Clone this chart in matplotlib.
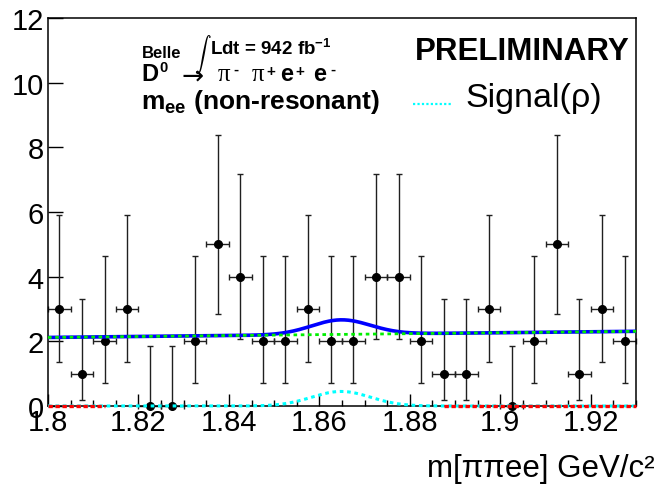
import numpy as np
import matplotlib
matplotlib.use("Agg")
import matplotlib.pyplot as plt
from matplotlib.lines import Line2D

# --- data ------------------------------------------------------------------
mass_lo, mass_hi = 1.80, 1.93          # GeV/c^2
bin_width = 0.005
counts = [3, 1, 2, 3, 0, 0, 2, 5, 4, 2, 2, 3, 2,
          2, 4, 4, 2, 1, 1, 3, 0, 2, 5, 1, 3, 2]

# Poisson (Garwood 68%) error bar edges for a given count
poisson_lo = {0: 0.0, 1: 0.173, 2: 0.708, 3: 1.367, 4: 2.086, 5: 2.840}
poisson_hi = {0: 1.841, 1: 3.300, 2: 4.638, 3: 5.918, 4: 7.163, 5: 8.382}

# fit components
bkg_at_lo, bkg_at_hi = 2.12, 2.31       # linear background at the range ends
sig_mean, sig_sigma, sig_peak = 1.8648, 0.0065, 0.45
sideband_ranges = [(1.800, 1.8125), (1.8875, 1.930)]

# ---------------------------------------------------------------------------
W, H = 658, 485
SANS = ["Liberation Sans", "DejaVu Sans"]
plt.rcParams["font.family"] = SANS
plt.rcParams["mathtext.fontset"] = "custom"
plt.rcParams["mathtext.rm"] = "Liberation Sans"
plt.rcParams["mathtext.it"] = "Liberation Sans:italic"
plt.rcParams["mathtext.bf"] = "Liberation Sans:bold"


def fx(x):
    return x / W


def fy(y):
    return 1 - y / H


fig = plt.figure(figsize=(W / 100, H / 100), dpi=100)
ax = fig.add_axes([fx(48), fy(407), (636 - 48) / W, (407 - 19) / H])

centres = mass_lo + bin_width * (np.arange(len(counts)) + 0.5)
n = np.array(counts)
err_lo = n - np.array([poisson_lo[c] for c in counts])
err_hi = np.array([poisson_hi[c] for c in counts]) - n

eb = ax.errorbar(centres, n, yerr=[err_lo, err_hi], xerr=bin_width / 2,
                 fmt="o", color="black", ecolor="#202020", ms=5.5,
                 elinewidth=1.0, capsize=2.3, capthick=1.0, zorder=2)
for art in eb.lines[0:1] + tuple(eb.lines[1]) + tuple(eb.lines[2]):
    art.set_clip_on(False)

xs = np.linspace(mass_lo, mass_hi, 600)
bkg = bkg_at_lo + (bkg_at_hi - bkg_at_lo) * (xs - mass_lo) / (mass_hi - mass_lo)
sig = sig_peak * np.exp(-0.5 * ((xs - sig_mean) / sig_sigma) ** 2)

ax.plot(xs, bkg + sig, color="#0000ff", lw=2.6, zorder=3, solid_capstyle="butt")
ax.plot(xs, bkg, color="#00ee00", lw=2.0, ls=(0, (1.3, 1.3)), zorder=4)
ax.plot(xs, sig, color="#00ffff", lw=2.2, ls=(0, (1.2, 1.2)), zorder=4,
        clip_on=False)
for lo, hi in sideband_ranges:
    ax.plot([lo, hi], [0, 0], color="#ff0000", lw=2.4, ls=(0, (1.3, 0.8)),
            zorder=5, clip_on=False)

ax.set_xlim(mass_lo, mass_hi)
ax.set_ylim(0, 12)
ax.set_xticks([1.80, 1.82, 1.84, 1.86, 1.88, 1.90, 1.92])
ax.set_xticklabels(["1.8", "1.82", "1.84", "1.86", "1.88", "1.9", "1.92"])
ax.set_xticks(np.arange(1.80, 1.9301, 0.005), minor=True)
ax.set_yticks([0, 2, 4, 6, 8, 10, 12])
ax.tick_params(axis="x", which="major", direction="in", length=8.5, width=1,
               labelsize=21, pad=1.5)
ax.tick_params(axis="x", which="minor", direction="in", length=4.5, width=1)
ax.tick_params(axis="y", which="major", direction="in", length=10.8, width=1,
               labelsize=21, pad=3)
for sp in ax.spines.values():
    sp.set_linewidth(1.1)

# --- texts -----------------------------------------------------------------
fig.text(fx(142), fy(58), "Belle", fontsize=12, fontweight="bold")
fig.text(fx(194), fy(54.5), r"$\int$", fontsize=12, math_fontfamily="cm",
         va="center")
fig.text(fx(210), fy(55), r"Ldt = 942 fb$^{\mathbf{-1}}$", fontsize=13.5,
         fontweight="bold")

# D0 -> pi- pi+ e+ e-, set piece by piece like the ROOT TLatex
decay_pieces = [
    (141, 81, "D", 17, SANS, "bold"),
    (159, 72, "0", 10.5, SANS, "bold"),
    (218, 81, "\u03c0", 18, ["Liberation Serif"], "normal"),
    (233, 74, "-", 11, SANS, "bold"),
    (252, 81, "\u03c0", 18, ["Liberation Serif"], "normal"),
    (266, 76, "+", 11, SANS, "bold"),
    (280, 81, "e", 17, SANS, "bold"),
    (295, 76, "+", 11, SANS, "bold"),
    (313, 81, "e", 17, SANS, "bold"),
    (330, 74, "-", 11, SANS, "bold"),
]
for x, y, s, size, fam, weight in decay_pieces:
    fig.text(fx(x), fy(y), s, fontsize=size, family=fam, fontweight=weight)
fig.text(fx(181), fy(78), "\u2192", fontsize=19, family=["DejaVu Sans"],
         va="center")

fig.text(fx(141), fy(109), r"m$_{\mathbf{ee}}$ (non-resonant)", fontsize=19,
         fontweight="bold")
fig.text(fx(415), fy(60), "PRELIMINARY", fontsize=22.5, fontweight="bold")

fig.add_artist(Line2D([fx(413), fx(453)], [fy(105), fy(105)], color="#00ffff",
                      lw=1.6, ls=(0, (1, 1))))
fig.text(fx(465), fy(107), "Signal(\u03c1)", fontsize=24.5)

fig.text(fx(655), fy(477), "m[\u03c0\u03c0ee] GeV/c\u00b2", fontsize=22.5,
         ha="right")

fig.savefig("out.png", dpi=100)
